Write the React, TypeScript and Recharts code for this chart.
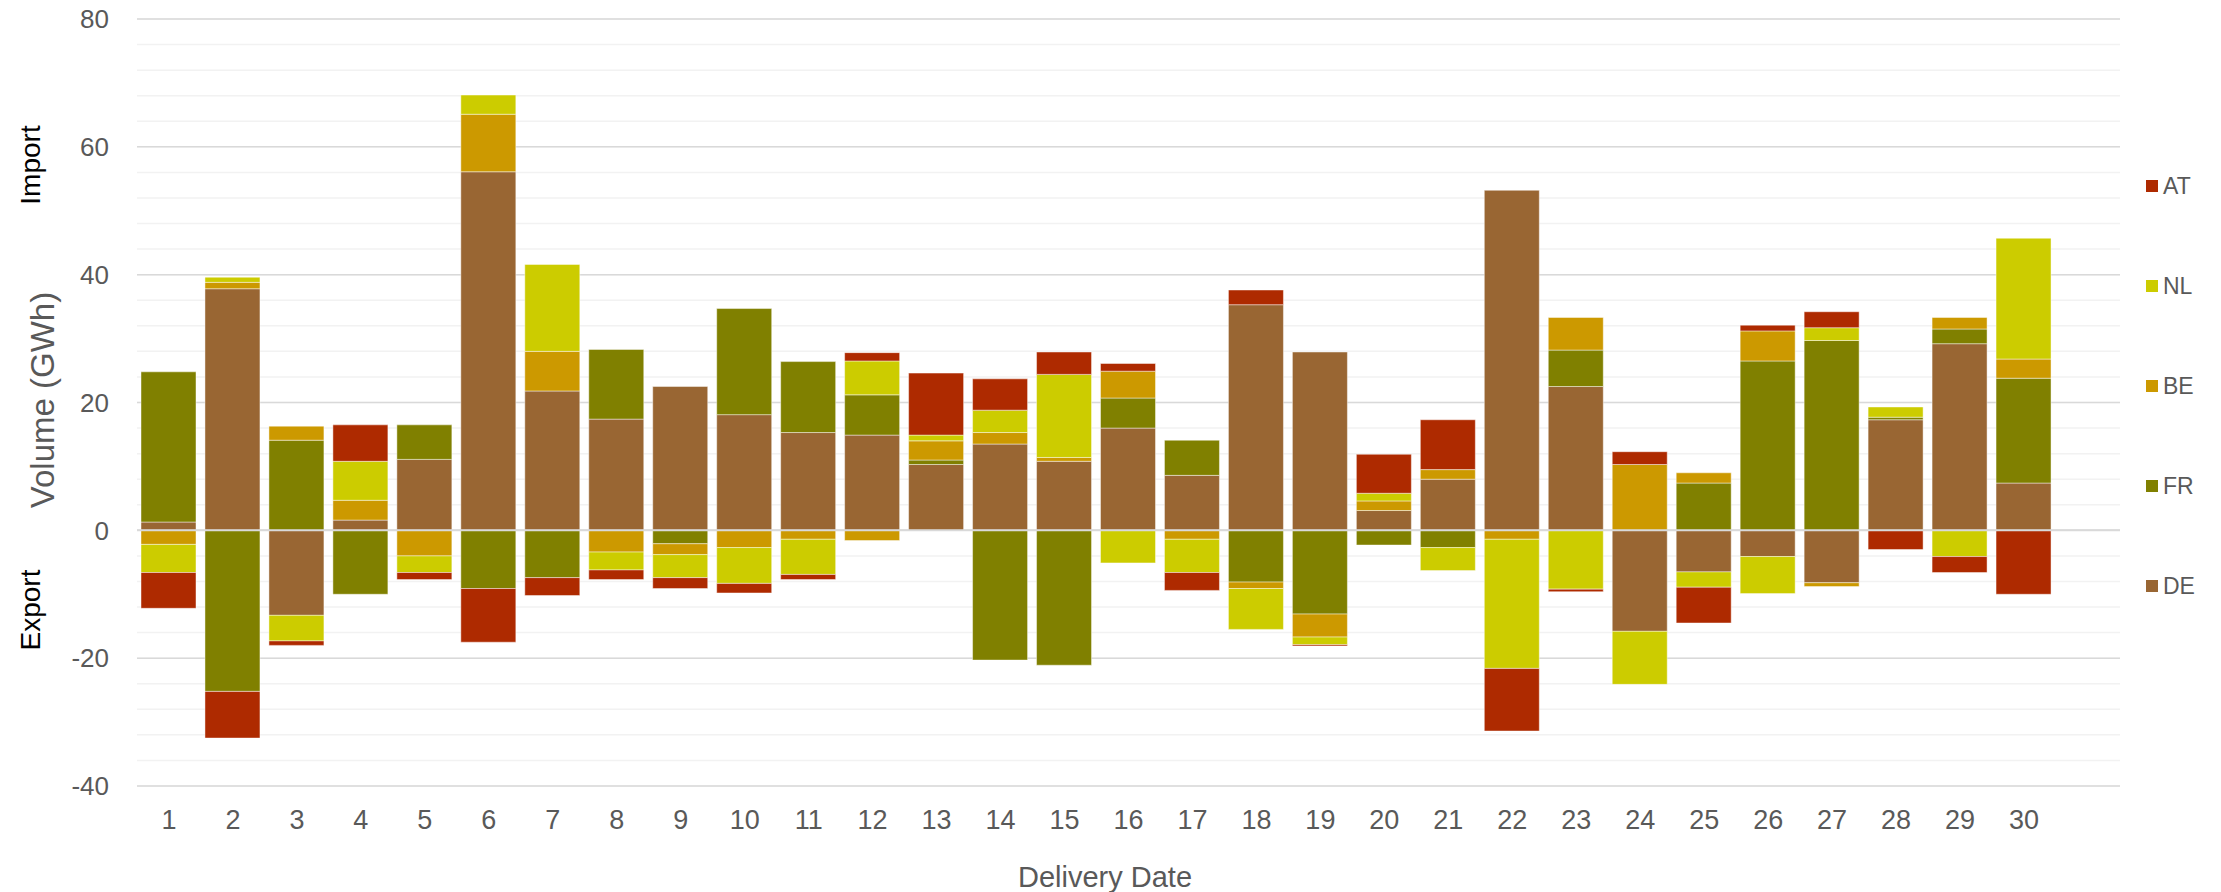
import { BarChart, Bar, XAxis, YAxis, CartesianGrid, ReferenceLine, Legend, Label } from 'recharts';

const days = Array.from({ length: 30 }, (_, i) => String(i + 1));

const DE = [1.3, 37.8, -13.3, 1.6, 11.1, 56.1, 21.8, 17.4, 22.5, 18.1, 15.3, 14.9, 10.3, 13.5, 10.8, 16.0, 8.6, 35.3, 27.9, 3.1, 8.0, 53.2, 22.5, -15.8, -6.5, -4.1, -8.2, 17.3, 29.2, 7.4];
const FR = [23.5, -25.2, 14.1, -10.0, 5.4, -9.1, -7.4, 10.9, -2.1, 16.6, 11.1, 6.3, 0.7, -20.3, -21.1, 4.7, 5.5, -8.1, -13.1, -2.3, -2.7, 0, 5.7, 0, 7.4, 26.5, 29.7, 0.4, 2.3, 16.4];
const BE = [-2.2, 1.0, 2.2, 3.1, -4.0, 9.0, 6.2, -3.4, -1.7, -2.7, -1.4, -1.6, 3.0, 1.8, 0.6, 4.2, -1.4, -1.0, -3.6, 1.5, 1.5, -1.4, 5.1, 10.3, 1.6, 4.7, -0.6, 0, 1.8, 3.0];
const NL = [-4.4, 0.8, -4.0, 6.1, -2.6, 3.0, 13.6, -2.8, -3.6, -5.6, -5.5, 5.3, 0.9, 3.5, 13.0, -5.1, -5.2, -6.4, -1.2, 1.2, -3.6, -20.2, -9.2, -8.3, -2.4, -5.8, 2.0, 1.6, -4.1, 18.9];
const AT = [-5.6, -7.3, -0.7, 5.7, -1.1, -8.4, -2.8, -1.5, -1.7, -1.5, -0.8, 1.3, 9.7, 4.9, 3.5, 1.2, -2.8, 2.3, -0.2, 6.1, 7.8, -9.8, -0.4, 2.0, -5.6, 0.9, 2.5, -3.0, -2.5, -10.0];

const minorTicks = Array.from({ length: 31 }, (_, i) => -40 + i * 4);
const majorTicks = [-40, -20, 0, 20, 40, 60, 80];

// stacking order from zero outwards
const series = [
  { key: 'DE', color: '#996633' },
  { key: 'FR', color: '#808000' },
  { key: 'BE', color: '#CC9900' },
  { key: 'NL', color: '#CCCC00' },
  { key: 'AT', color: '#AE2A00' },
];

const data = days.map((day, i) => ({ day, DE: DE[i], FR: FR[i], BE: BE[i], NL: NL[i], AT: AT[i] }));

const FONT = '"Liberation Sans", Arial, sans-serif';
const GREY = '#595959';

// legend lists the series top-down in reverse stacking order
function LegendBox() {
  const items = [...series].reverse();
  return (
    <div style={{ fontFamily: FONT }}>
      {items.map((it) => (
        <div key={it.key} style={{ height: 100, display: 'flex', alignItems: 'center' }}>
          <span style={{ width: 12, height: 12, background: it.color, display: 'inline-block', marginRight: 5 }} />
          <span style={{ fontSize: 23, color: GREY }}>{it.key}</span>
        </div>
      ))}
    </div>
  );
}

function YTitles() {
  return (
    <g fontFamily={FONT}>
      <text x={42} y={400} transform="rotate(-90 42 400)" textAnchor="middle" dominantBaseline="central" fontSize={33} fill={GREY}>
        Volume (GWh)
      </text>
      <text x={30} y={165} transform="rotate(-90 30 165)" textAnchor="middle" dominantBaseline="central" fontSize={28} fill="#000">
        Import
      </text>
      <text x={30} y={610} transform="rotate(-90 30 610)" textAnchor="middle" dominantBaseline="central" fontSize={28} fill="#000">
        Export
      </text>
    </g>
  );
}

function XTitle() {
  return (
    <text x={1105} y={877} textAnchor="middle" dominantBaseline="central" fontSize={29} fill={GREY} fontFamily={FONT}>
      Delivery Date
    </text>
  );
}

export default function App() {
  return (
    <div style={{ position: 'absolute', left: 0, top: 0, background: '#fff' }}>
      <BarChart width={2221} height={892} data={data} stackOffset="sign" margin={{ top: 19, right: 101, bottom: 0, left: 0 }}>
        <CartesianGrid vertical={false} stroke="#f2f2f2" strokeWidth={1.5} />
        <CartesianGrid vertical={false} stroke="#d9d9d9" strokeWidth={1.5} horizontalValues={majorTicks} />
        <XAxis
          dataKey="day"
          height={106}
          interval={0}
          padding={{ left: 0, right: 64 }}
          axisLine={false}
          tickLine={false}
          tickSize={0}
          tickMargin={24}
          tick={{ fill: GREY, fontSize: 27, fontFamily: FONT }}
        >
          <Label content={<XTitle />} />
        </XAxis>
        <YAxis
          width={137}
          domain={[-40, 80]}
          ticks={minorTicks}
          interval={0}
          allowDataOverflow
          axisLine={false}
          tickLine={false}
          tickSize={0}
          tickMargin={28}
          tickFormatter={(v: number) => (v % 20 === 0 ? String(v) : '')}
          tick={{ fill: GREY, fontSize: 26, fontFamily: FONT }}
        >
          <Label content={<YTitles />} />
        </YAxis>
        <Legend
          layout="vertical"
          align="center"
          verticalAlign="middle"
          content={<LegendBox />}
          wrapperStyle={{ left: 2146, top: 136, width: 75 }}
        />
        {series.map((s) => (
          <Bar
            key={s.key}
            dataKey={s.key}
            stackId="a"
            fill={s.color}
            barSize={55}
            stroke="rgba(255,255,255,0.45)"
            strokeWidth={1}
            isAnimationActive={false}
          />
        ))}
        <ReferenceLine y={0} stroke="#d9d9d9" strokeWidth={2} />
      </BarChart>
    </div>
  );
}
